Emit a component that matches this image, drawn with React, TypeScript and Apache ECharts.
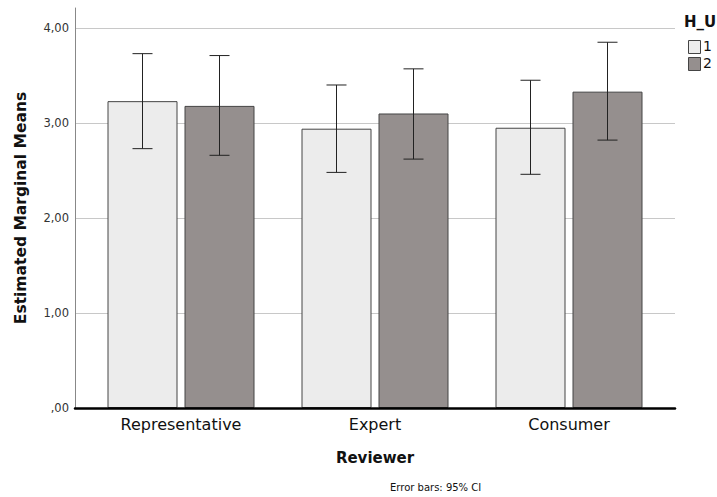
import React, { useEffect, useRef } from "react";
import * as echarts from "echarts";

const categories = ["Representative", "Expert", "Consumer"];
const groupNames = ["1", "2"];
const means1 = [3.23, 2.94, 2.95];
const means2 = [3.18, 3.1, 3.33];
const low1 = [2.73, 2.48, 2.46];
const high1 = [3.73, 3.4, 3.45];
const low2 = [2.66, 2.62, 2.82];
const high2 = [3.71, 3.57, 3.85];
const yTicks = [0, 1, 2, 3, 4];

const FONT = "DejaVu Sans";
const YMAX = 4.2105;
const C1 = "#ececec";
const C2 = "#958f8e";
const BORDER = "#444";

function errorSeries(low: number[], high: number[], offset: number) {
  return {
    type: "custom",
    xAxisIndex: 1,
    yAxisIndex: 1,
    z: 5,
    data: low.map((l, i) => [i, l, high[i]]),
    renderItem: (params: any, api: any) => {
      const lo = api.coord([api.value(0), api.value(1)]);
      const hi = api.coord([api.value(0), api.value(2)]);
      const x = lo[0] + offset;
      const cap = 10;
      const style = { stroke: "#222", lineWidth: 1 };
      return {
        type: "group",
        children: [
          { type: "line", shape: { x1: x, y1: lo[1], x2: x, y2: hi[1] }, style },
          { type: "line", shape: { x1: x - cap, y1: lo[1], x2: x + cap, y2: lo[1] }, style },
          { type: "line", shape: { x1: x - cap, y1: hi[1], x2: x + cap, y2: hi[1] }, style },
        ],
      };
    },
  };
}

export default function App() {
  const ref = useRef<HTMLDivElement>(null);
  useEffect(() => {
    document.body.style.margin = "0";
    const chart = echarts.init(ref.current!, undefined, { renderer: "svg" });
    const fmt = (v: number) => (v === 0 ? ",00" : v.toFixed(2).replace(".", ","));
    chart.setOption({
      animation: false,
      backgroundColor: "#fff",
      textStyle: { fontFamily: FONT },
      grid: [
        { left: 75, top: 8, width: 600, height: 400 },
        { left: 84, top: 8, width: 582, height: 400 },
      ],
      xAxis: [
        {
          gridIndex: 0,
          type: "value",
          min: 0,
          max: 1,
          axisLine: { show: true, onZero: false, lineStyle: { color: "#000", width: 2.5 } },
          axisTick: { show: false },
          axisLabel: { show: false },
          splitLine: { show: false },
          z: 10,
        },
        {
          gridIndex: 1,
          type: "category",
          data: categories,
          axisLine: { show: false },
          axisTick: { show: false },
          axisLabel: { fontSize: 16, color: "#111", margin: 8, fontFamily: FONT },
          name: "Reviewer",
          nameLocation: "middle",
          nameGap: 42,
          nameTextStyle: { fontSize: 15, fontWeight: "bold", color: "#111", fontFamily: FONT },
        },
      ],
      yAxis: [
        {
          gridIndex: 0,
          type: "value",
          min: 0,
          max: YMAX,
          interval: 1,
          axisLine: { show: true, lineStyle: { color: "#888", width: 1 } },
          axisTick: { show: false },
          axisLabel: {
            fontSize: 11.5,
            color: "#333",
            margin: 6,
            fontFamily: FONT,
            showMaxLabel: false,
            formatter: (v: number) => (yTicks.includes(v) ? fmt(v) : ""),
          },
          splitLine: {
            show: true,
            lineStyle: {
              color: ["transparent", "#c8c8c8", "#c8c8c8", "#c8c8c8", "#c8c8c8", "transparent"],
              width: 1,
            },
          },
          name: "Estimated Marginal Means",
          nameLocation: "middle",
          nameGap: 46,
          nameTextStyle: { fontSize: 15.5, fontWeight: "bold", color: "#111", fontFamily: FONT },
        },
        {
          gridIndex: 1,
          type: "value",
          min: 0,
          max: YMAX,
          show: false,
        },
      ],
      series: [
        {
          name: groupNames[0],
          type: "bar",
          xAxisIndex: 1,
          yAxisIndex: 1,
          data: means1,
          barWidth: 70,
          barGap: "10%",
          itemStyle: { color: C1, borderColor: BORDER, borderWidth: 1 },
          z: 3,
        },
        {
          name: groupNames[1],
          type: "bar",
          xAxisIndex: 1,
          yAxisIndex: 1,
          data: means2,
          barWidth: 70,
          barGap: "10%",
          itemStyle: { color: C2, borderColor: BORDER, borderWidth: 1 },
          z: 3,
        },
        errorSeries(low1, high1, -38.5),
        errorSeries(low2, high2, 38.5),
      ],
      graphic: [
        {
          type: "text",
          left: 684,
          top: 14,
          style: { text: "H_U", fontSize: 15, fontWeight: "bold", fill: "#111", fontFamily: FONT },
        },
        {
          type: "rect",
          shape: { x: 688.5, y: 40.5, width: 12, height: 13 },
          style: { fill: C1, stroke: BORDER, lineWidth: 1 },
        },
        {
          type: "text",
          left: 703,
          top: 39,
          style: { text: groupNames[0], fontSize: 14, fill: "#111", fontFamily: FONT },
        },
        {
          type: "rect",
          shape: { x: 688.5, y: 57.5, width: 12, height: 13 },
          style: { fill: C2, stroke: BORDER, lineWidth: 1 },
        },
        {
          type: "text",
          left: 703,
          top: 56,
          style: { text: groupNames[1], fontSize: 14, fill: "#111", fontFamily: FONT },
        },
        {
          type: "text",
          left: 390,
          top: 482,
          style: { text: "Error bars: 95% CI", fontSize: 10, fill: "#111", fontFamily: FONT },
        },
      ],
    });
    return () => chart.dispose();
  }, []);
  return (
    <div
      ref={ref}
      style={{ position: "fixed", left: 0, top: 0, width: 717, height: 497 }}
    />
  );
}
